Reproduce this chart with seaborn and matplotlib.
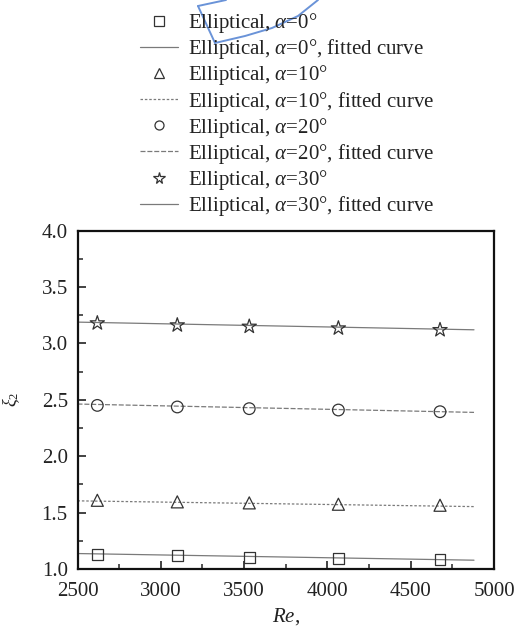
import numpy as np
import pandas as pd
import matplotlib
matplotlib.use("Agg")
import matplotlib.pyplot as plt
from matplotlib.lines import Line2D
import seaborn as sns

# ---- data ----
re_vals = [2619, 3099, 3531, 4066, 4676]
xi_a0 = [1.131, 1.117, 1.102, 1.090, 1.081]
xi_a10 = [1.609, 1.595, 1.586, 1.574, 1.565]
xi_a20 = [2.450, 2.436, 2.421, 2.409, 2.394]
xi_a30 = [3.179, 3.161, 3.149, 3.134, 3.119]

fit_re = [2500, 4880]
fit_a0 = [1.137, 1.078]
fit_a10 = [1.604, 1.553]
fit_a20 = [2.462, 2.388]
fit_a30 = [3.188, 3.120]

angles = ["0", "10", "20", "30"]
series = [xi_a0, xi_a10, xi_a20, xi_a30]
fits = [fit_a0, fit_a10, fit_a20, fit_a30]

xticks = [2500, 3000, 3500, 4000, 4500, 5000]
yticks = [1.0, 1.5, 2.0, 2.5, 3.0, 3.5, 4.0]

# ---- styling ----
sns.set_theme(style="white")
plt.rcParams['font.family'] = ['Liberation Serif', 'DejaVu Serif']
plt.rcParams['mathtext.fontset'] = 'custom'
plt.rcParams['mathtext.rm'] = 'Liberation Serif'
plt.rcParams['mathtext.it'] = 'Liberation Serif:italic'

markers = ["s", "^", "o", "*"]
msizes = [60, 75, 70, 115]
linestyles = ["-", (0, (2, 1.5)), (0, (4, 1.5)), "-"]
mcolor = "#333333"
lcolor = "#7a7a7a"

W, H = 515, 632
fig = plt.figure(figsize=(W / 100, H / 100), dpi=100)
ax = fig.add_axes([77.5 / W, 1 - 569 / H, (494 - 77.5) / W, (569 - 230.5) / H])

handles = []
labels = []
for ang, ys, fy, mk, ms, ls in zip(angles, series, fits, markers, msizes, linestyles):
    df_pts = pd.DataFrame({"Re": re_vals, "xi": ys})
    df_fit = pd.DataFrame({"Re": fit_re, "xi": fy})
    sns.lineplot(data=df_fit, x="Re", y="xi", ax=ax, color=lcolor,
                 linewidth=0.9, linestyle=ls, legend=False)
    sns.scatterplot(data=df_pts, x="Re", y="xi", ax=ax, marker=mk, s=ms,
                    facecolor="none", edgecolor=mcolor, linewidth=0.9,
                    legend=False, zorder=3)
    handles.append(Line2D([], [], marker=mk, linestyle="none",
                          markerfacecolor="none", markeredgecolor=mcolor,
                          markeredgewidth=0.9, markersize=6.5 if mk != "*" else 8.5))
    labels.append(r"Elliptical, $\alpha$=" + ang + "°")
    handles.append(Line2D([], [], color=lcolor, linewidth=0.9, linestyle=ls))
    labels.append(r"Elliptical, $\alpha$=" + ang + "°, fitted curve")

ax.set_xlim(2500, 5000)
ax.set_ylim(1.0, 4.0)
ax.set_xticks(xticks)
ax.set_yticks(yticks)
ax.set_xticklabels([str(t) for t in xticks])
ax.set_yticklabels([f"{t:.1f}" for t in yticks])
ax.set_xticks(np.arange(2750, 5000, 500), minor=True)
ax.set_yticks(np.arange(1.25, 4.0, 0.5), minor=True)
ax.tick_params(axis="both", which="major", direction="in", length=6, width=1.2,
               labelsize=15, colors="#222222",
               bottom=True, left=True, top=False, right=False)
ax.tick_params(axis="x", which="major", pad=9)
ax.tick_params(axis="y", which="major", pad=7)
ax.tick_params(axis="both", which="minor", direction="in", length=3.5, width=1.1,
               bottom=True, left=True, top=False, right=False)
for s in ax.spines.values():
    s.set_linewidth(1.6)
    s.set_color("#111111")

ax.set_xlabel("$Re$,", fontsize=15, color="#222222", labelpad=4)
ax.set_ylabel(r"$\xi_2$", fontsize=13, color="#222222", labelpad=14)

fig.legend(handles, labels, loc="upper left", frameon=False,
           bbox_to_anchor=(132 / W, 1 - 3 / H), fontsize=15,
           handlelength=1.8, handletextpad=0.5, labelspacing=0.1,
           borderaxespad=0, labelcolor="#222222")

# blue hand-drawn annotation stroke at the top (decoration)
blue = "#6a93d8"
def fx(p):
    return p / W
def fy_(p):
    return 1 - p / H
fig.add_artist(Line2D([fx(198), fx(226)], [fy_(6), fy_(0)], color=blue, lw=1.4))
fig.add_artist(Line2D([fx(198), fx(215)], [fy_(6), fy_(43)], color=blue, lw=1.4))
fig.add_artist(Line2D([fx(215), fx(245), fx(272), fx(298), fx(318)],
                      [fy_(43), fy_(36), fy_(28), fy_(16), fy_(0)], color=blue, lw=1.4))

fig.savefig("out.png", dpi=100)
